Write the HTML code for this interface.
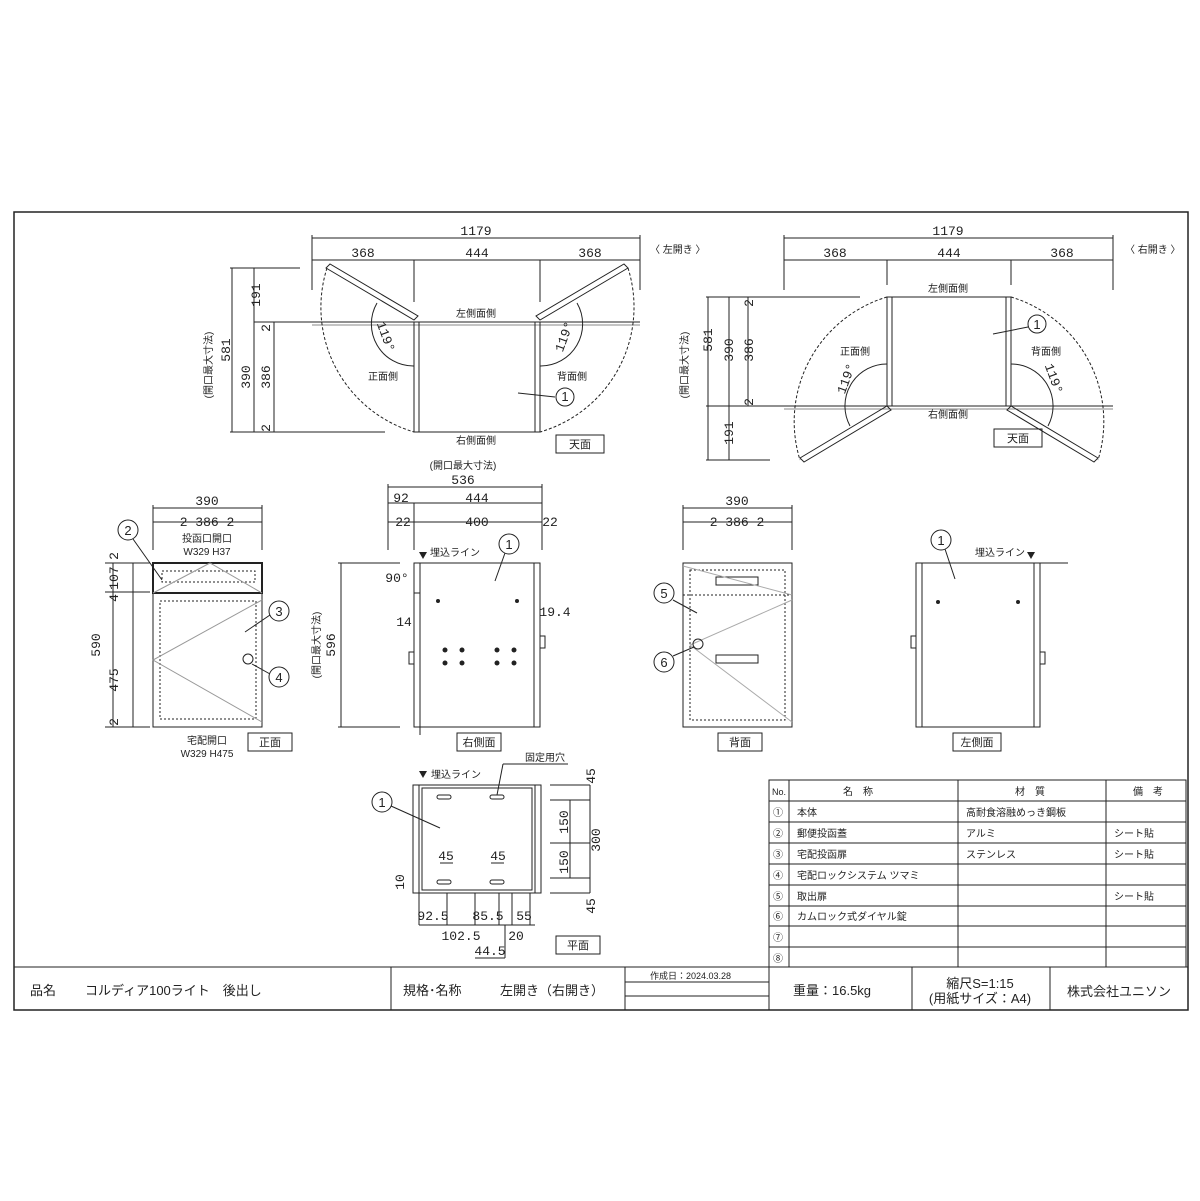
<!DOCTYPE html>
<html><head><meta charset="utf-8"><style>
body{margin:0;background:#fff}
svg{display:block}
text{font-family:"Liberation Sans","Noto Sans CJK JP",sans-serif;fill:#222}
.d text{font-family:"Liberation Mono","Noto Sans CJK JP",monospace;font-size:13px}
.j text{font-size:10px}
.j text.b{font-size:13px}
.j text.v{font-size:11px}
</style></head><body>
<svg width="1200" height="1201" viewBox="0 0 1200 1201" xmlns="http://www.w3.org/2000/svg">
<g stroke="#222" fill="none" stroke-width="1">
<rect x="14" y="212" width="1174" height="798" stroke-width="1.5"/>
<!-- TOP LEFT -->
<line x1="312" y1="238" x2="640" y2="238"/><line x1="312" y1="260" x2="640" y2="260"/>
<line x1="312" y1="235" x2="312" y2="290"/><line x1="640" y1="235" x2="640" y2="290"/>
<line x1="414" y1="260" x2="414" y2="302"/><line x1="540" y1="260" x2="540" y2="302"/>
<line x1="232" y1="268" x2="232" y2="432"/><line x1="254" y1="268" x2="254" y2="432"/><line x1="274" y1="322" x2="274" y2="432"/>
<line x1="230" y1="268" x2="300" y2="268"/><line x1="254" y1="322" x2="385" y2="322"/><line x1="230" y1="432" x2="385" y2="432"/>
<line x1="312" y1="322" x2="640" y2="322"/><line x1="312" y1="325" x2="640" y2="325" stroke="#888"/>
<rect x="414" y="322" width="5" height="110"/><rect x="535" y="322" width="5" height="110"/>
<line x1="419" y1="432" x2="535" y2="432"/>
<path d="M326,268 L414,320 L418,316 L330,264Z"/><path d="M628,268 L540,320 L536,316 L624,264Z"/>
<path d="M327,268 A130,130 0 0 0 414,432" stroke-dasharray="3,2"/><path d="M628,268 A130,130 0 0 1 540,432" stroke-dasharray="3,2"/>
<path d="M377,303 A42,42 0 0 0 414,366"/><path d="M577,303 A42,42 0 0 1 540,366"/>
<!-- TOP RIGHT -->
<line x1="784" y1="238" x2="1113" y2="238"/><line x1="784" y1="260" x2="1113" y2="260"/>
<line x1="784" y1="235" x2="784" y2="290"/><line x1="1113" y1="235" x2="1113" y2="290"/>
<line x1="887" y1="260" x2="887" y2="285"/><line x1="1011" y1="260" x2="1011" y2="285"/>
<line x1="708" y1="297" x2="708" y2="460"/><line x1="729" y1="297" x2="729" y2="460"/><line x1="748" y1="297" x2="748" y2="406"/>
<line x1="706" y1="297" x2="860" y2="297"/><line x1="706" y1="406" x2="1113" y2="406"/><line x1="706" y1="460" x2="770" y2="460"/>
<line x1="784" y1="409" x2="1113" y2="409" stroke="#888"/>
<rect x="887" y="297" width="124" height="109"/><rect x="887" y="297" width="5" height="109"/><rect x="1006" y="297" width="5" height="109"/>
<path d="M800,458 L887,406 L891,410 L804,462Z"/><path d="M1098,458 L1011,406 L1007,410 L1094,462Z"/>
<path d="M887,297 A130,130 0 0 0 800,460" stroke-dasharray="3,2"/><path d="M1011,297 A130,130 0 0 1 1098,460" stroke-dasharray="3,2"/>
<path d="M887,364 A42,42 0 0 0 850,426"/><path d="M1011,364 A42,42 0 0 1 1048,426"/>
<!-- FRONT -->
<line x1="153" y1="508" x2="262" y2="508"/><line x1="153" y1="522" x2="262" y2="522"/>
<line x1="153" y1="505" x2="153" y2="550"/><line x1="262" y1="505" x2="262" y2="550"/>
<line x1="113" y1="563" x2="113" y2="727"/><line x1="133" y1="563" x2="133" y2="727"/>
<line x1="105" y1="563" x2="150" y2="563"/><line x1="105" y1="592" x2="150" y2="592"/><line x1="105" y1="727" x2="150" y2="727"/>
<rect x="153" y="563" width="109" height="164"/>
<rect x="153" y="563" width="109" height="30" stroke-width="2"/>
<rect x="162" y="571" width="93" height="11" stroke-dasharray="2,2"/>
<rect x="160" y="601" width="96" height="118" stroke-dasharray="2,2"/>
<path d="M153,593 L210,563 L262,593" stroke="#999"/>
<path d="M262,600 L153,660 L262,722" stroke="#999"/>
<circle cx="248" cy="659" r="5"/>
<!-- RIGHT SIDE -->
<line x1="388" y1="487" x2="542" y2="487"/><line x1="388" y1="503" x2="542" y2="503"/><line x1="388" y1="522" x2="542" y2="522"/>
<line x1="388" y1="484" x2="388" y2="550"/><line x1="542" y1="484" x2="542" y2="550"/><line x1="414" y1="503" x2="414" y2="550"/>
<line x1="341" y1="563" x2="341" y2="727"/><line x1="338" y1="563" x2="400" y2="563"/><line x1="338" y1="727" x2="400" y2="727"/>
<rect x="414" y="563" width="126" height="164"/><line x1="420" y1="563" x2="420" y2="735"/><line x1="534" y1="563" x2="534" y2="727"/>
<line x1="414" y1="593" x2="420" y2="593"/>
<rect x="409" y="652" width="5" height="12"/><rect x="540" y="636" width="5" height="12"/>
<!-- BACK -->
<line x1="683" y1="508" x2="792" y2="508"/><line x1="683" y1="522" x2="792" y2="522"/>
<line x1="683" y1="505" x2="683" y2="550"/><line x1="792" y1="505" x2="792" y2="550"/>
<rect x="683" y="563" width="109" height="164"/>
<rect x="690" y="570" width="95" height="150" stroke-dasharray="2,2"/>
<line x1="683" y1="595" x2="792" y2="595" stroke-dasharray="2,2"/>
<rect x="716" y="577" width="42" height="8"/><rect x="716" y="655" width="42" height="8"/>
<path d="M683,566 L792,595 M792,600 L690,645 L792,722" stroke="#aaa"/>
<circle cx="698" cy="644" r="5"/>
<!-- LEFT SIDE -->
<rect x="916" y="563" width="124" height="164"/><line x1="922" y1="563" x2="922" y2="727"/><line x1="1034" y1="563" x2="1034" y2="727"/>
<line x1="1040" y1="563" x2="1068" y2="563"/>
<rect x="911" y="636" width="5" height="12"/><rect x="1040" y="652" width="5" height="12"/>
<!-- PLAN -->
<rect x="413" y="785" width="128" height="108"/><rect x="419" y="785" width="116" height="108"/>
<rect x="422" y="788" width="110" height="102"/>
<line x1="550" y1="785" x2="590" y2="785"/><line x1="550" y1="800" x2="590" y2="800"/><line x1="550" y1="843" x2="590" y2="843"/><line x1="550" y1="878" x2="590" y2="878"/><line x1="550" y1="893" x2="590" y2="893"/>
<line x1="570" y1="800" x2="570" y2="878"/><line x1="590" y1="785" x2="590" y2="893"/>
<line x1="419" y1="925" x2="535" y2="925"/><line x1="419" y1="893" x2="419" y2="925"/><line x1="447" y1="893" x2="447" y2="925"/><line x1="475" y1="893" x2="475" y2="925"/><line x1="499" y1="893" x2="499" y2="925"/><line x1="512" y1="893" x2="512" y2="925"/><line x1="530" y1="893" x2="530" y2="925"/>
<line x1="505" y1="925" x2="505" y2="958"/><line x1="475" y1="958" x2="505" y2="958"/>
<rect x="437" y="795" width="14" height="4" rx="2"/><rect x="490" y="795" width="14" height="4" rx="2"/>
<rect x="437" y="880" width="14" height="4" rx="2"/><rect x="490" y="880" width="14" height="4" rx="2"/>
<line x1="503" y1="764" x2="568" y2="764"/><line x1="503" y1="764" x2="497" y2="795"/>
<line x1="440" y1="863" x2="453" y2="863"/><line x1="491" y1="863" x2="504" y2="863"/>
<!-- label boxes -->
<rect x="556" y="435" width="48" height="18"/><rect x="994" y="429" width="48" height="18"/>
<rect x="248" y="733" width="44" height="18"/><rect x="457" y="733" width="44" height="18"/>
<rect x="718" y="733" width="44" height="18"/><rect x="953" y="733" width="48" height="18"/>
<rect x="556" y="936" width="44" height="18"/>
<!-- balloons -->
<circle cx="565" cy="397" r="9"/><circle cx="1037" cy="324" r="9"/>
<circle cx="128" cy="530" r="10"/><circle cx="279" cy="611" r="10"/><circle cx="279" cy="677" r="10"/>
<circle cx="509" cy="544" r="10"/><circle cx="664" cy="593" r="10"/><circle cx="664" cy="662" r="10"/>
<circle cx="941" cy="540" r="10"/><circle cx="382" cy="802" r="10"/>
<path d="M555,397 L518,393 M1028,327 L993,334 M133,539 L162,580 M270,615 L245,632 M270,674 L252,664 M505,553 L495,581 M673,600 L697,613 M673,656 L694,647 M945,549 L955,579 M391,806 L440,828"/>
<!-- table -->
<rect x="769" y="780" width="417" height="187"/>
<path d="M769,801H1186M769,822H1186M769,843H1186M769,864H1186M769,885H1186M769,906H1186M769,926H1186M769,947H1186"/>
<path d="M789,780V967M958,780V967M1106,780V967"/>
<path d="M14,967H1188M391,967V1010M625,967V1010M769,967V1010M912,967V1010M1050,967V1010M625,982H769M625,996H769"/>
</g>
<g fill="#222">
<polygon points="419,552 427,552 423,559"/><polygon points="1027,552 1035,552 1031,559"/><polygon points="419,771 427,771 423,778"/>
<circle cx="438" cy="601" r="2"/><circle cx="517" cy="601" r="2"/>
<circle cx="445" cy="650" r="2.5"/><circle cx="462" cy="650" r="2.5"/><circle cx="497" cy="650" r="2.5"/><circle cx="514" cy="650" r="2.5"/>
<circle cx="445" cy="663" r="2.5"/><circle cx="462" cy="663" r="2.5"/><circle cx="497" cy="663" r="2.5"/><circle cx="514" cy="663" r="2.5"/>
<circle cx="938" cy="602" r="2"/><circle cx="1018" cy="602" r="2"/>
</g>
<g class="d" text-anchor="middle">
<text x="476" y="235">1179</text><text x="363" y="257">368</text><text x="477" y="257">444</text><text x="590" y="257">368</text>
<text x="948" y="235">1179</text><text x="835" y="257">368</text><text x="949" y="257">444</text><text x="1062" y="257">368</text>
<text x="207" y="505">390</text><text x="207" y="526">2  386  2</text>
<text x="737" y="505">390</text><text x="737" y="526">2  386  2</text>
<text x="463" y="484">536</text><text x="401" y="502">92</text><text x="477" y="502">444</text>
<text x="403" y="526">22</text><text x="477" y="526">400</text><text x="550" y="526">22</text>
<text x="397" y="582">90°</text><text x="404" y="626">14</text><text x="555" y="616">19.4</text>
<text x="446" y="860">45</text><text x="498" y="860">45</text>
<text x="433" y="920">92.5</text><text x="488" y="920">85.5</text><text x="524" y="920">55</text>
<text x="461" y="940">102.5</text><text x="516" y="940">20</text><text x="490" y="955">44.5</text>
<text transform="translate(260,295) rotate(-90)">191</text><text transform="translate(230,350) rotate(-90)">581</text>
<text transform="translate(250,377) rotate(-90)">390</text><text transform="translate(270,377) rotate(-90)">386</text>
<text transform="translate(270,328) rotate(-90)">2</text><text transform="translate(270,428) rotate(-90)">2</text>
<text transform="translate(712,340) rotate(-90)">581</text><text transform="translate(733,350) rotate(-90)">390</text><text transform="translate(753,350) rotate(-90)">386</text>
<text transform="translate(733,433) rotate(-90)">191</text><text transform="translate(753,303) rotate(-90)">2</text><text transform="translate(753,402) rotate(-90)">2</text>
<text transform="translate(382,338) rotate(70)">119°</text><text transform="translate(568,338) rotate(-70)">119°</text>
<text transform="translate(850,380) rotate(-70)">119°</text><text transform="translate(1050,380) rotate(70)">119°</text>
<text transform="translate(100,645) rotate(-90)">590</text><text transform="translate(118,578) rotate(-90)">107</text>
<text transform="translate(118,680) rotate(-90)">475</text><text transform="translate(118,556) rotate(-90)">2</text>
<text transform="translate(118,598) rotate(-90)">4</text><text transform="translate(118,722) rotate(-90)">2</text>
<text transform="translate(335,645) rotate(-90)">596</text>
<text transform="translate(595,776) rotate(-90)">45</text><text transform="translate(568,822) rotate(-90)">150</text>
<text transform="translate(568,862) rotate(-90)">150</text><text transform="translate(600,840) rotate(-90)">300</text>
<text transform="translate(595,906) rotate(-90)">45</text><text transform="translate(404,882) rotate(-90)">10</text>
</g>
<g class="j" text-anchor="middle">
<text transform="translate(212,365) rotate(-90)">(開口最大寸法)</text><text transform="translate(688,365) rotate(-90)">(開口最大寸法)</text>
<text transform="translate(320,645) rotate(-90)">(開口最大寸法)</text>
<text x="463" y="469">(開口最大寸法)</text>
<text x="476" y="317">左側面側</text><text x="476" y="444">右側面側</text><text x="383" y="380">正面側</text><text x="572" y="380">背面側</text>
<text x="948" y="292">左側面側</text><text x="948" y="418">右側面側</text><text x="855" y="355">正面側</text><text x="1046" y="355">背面側</text>
<text class="v" x="580" y="448">天面</text><text class="v" x="1018" y="442">天面</text>
<text class="v" x="270" y="746">正面</text><text class="v" x="479" y="746">右側面</text><text class="v" x="740" y="746">背面</text><text class="v" x="977" y="746">左側面</text><text class="v" x="578" y="949">平面</text>
<text x="207" y="542">投函口開口</text><text x="207" y="555">W329 H37</text>
<text x="207" y="744">宅配開口</text><text x="207" y="757">W329 H475</text>
<text x="455" y="556">埋込ライン</text><text x="1000" y="556">埋込ライン</text><text x="456" y="778">埋込ライン</text><text x="545" y="761">固定用穴</text>
<text x="650" y="253" text-anchor="start">〈 左開き 〉</text><text x="1125" y="253" text-anchor="start">〈 右開き 〉</text>
<text class="b" x="565" y="401">1</text><text class="b" x="1037" y="329">1</text><text class="b" x="128" y="535">2</text>
<text class="b" x="279" y="616">3</text><text class="b" x="279" y="682">4</text><text class="b" x="509" y="549">1</text>
<text class="b" x="664" y="598">5</text><text class="b" x="664" y="667">6</text><text class="b" x="941" y="545">1</text><text class="b" x="382" y="807">1</text>
</g>
<g class="j">
<text x="772" y="795" style="font-size:9px">No.</text><text x="843" y="795">名　称</text><text x="1015" y="795">材　質</text><text x="1133" y="795">備　考</text>
<text x="773" y="816">①</text><text x="773" y="837">②</text><text x="773" y="858">③</text><text x="773" y="879">④</text><text x="773" y="900">⑤</text><text x="773" y="920">⑥</text><text x="773" y="941">⑦</text><text x="773" y="962">⑧</text>
<text x="797" y="816">本体</text><text x="797" y="837">郵便投函蓋</text><text x="797" y="858">宅配投函扉</text><text x="797" y="879">宅配ロックシステム ツマミ</text><text x="797" y="900">取出扉</text><text x="797" y="920">カムロック式ダイヤル錠</text>
<text x="966" y="816">高耐食溶融めっき鋼板</text><text x="966" y="837">アルミ</text><text x="966" y="858">ステンレス</text>
<text x="1114" y="837">シート貼</text><text x="1114" y="858">シート貼</text><text x="1114" y="900">シート貼</text>
<text x="650" y="979" style="font-size:9px">作成日：2024.03.28</text>
</g>
<g font-size="13">
<text x="30" y="995">品名</text><text x="85" y="995">コルディア100ライト　後出し</text>
<text x="403" y="995">規格･名称</text><text x="500" y="995">左開き（右開き）</text>
<text x="793" y="995">重量：16.5kg</text>
<text x="980" y="988" text-anchor="middle">縮尺S=1:15</text><text x="980" y="1003" text-anchor="middle">(用紙サイズ：A4)</text>
<text x="1119" y="996" text-anchor="middle">株式会社ユニソン</text>
</g>
</svg>
</body></html>
